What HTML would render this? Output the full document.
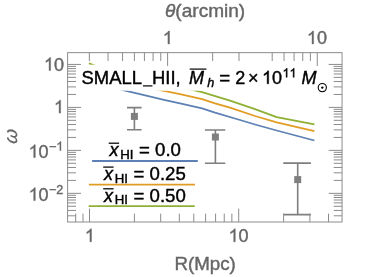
<!DOCTYPE html>
<html><head><meta charset="utf-8"><title>plot</title>
<style>
html,body{margin:0;padding:0;background:#fff;}
svg{display:block;will-change:transform;font-family:"Liberation Sans",sans-serif;}
</style></head><body>
<svg width="374" height="277" viewBox="0 0 374 277">
<rect width="374" height="277" fill="#fff"/>
<polyline points="88.9,80.5 122,89.9 141,94.3 164,99.8 180,103.4 202.1,108.3 215,112.6 240,120.0 255,124.5 276.7,130.5 314.4,140.5" fill="none" stroke="#5E81B5" stroke-width="1.8" stroke-linejoin="round"/>
<polyline points="88.9,72 134.4,85.0 158,89.7 180,94.2 202.1,99.2 215,103.3 230,107.7 255,116.0 276.7,122.3 314.4,131.1" fill="none" stroke="#E19C24" stroke-width="1.8" stroke-linejoin="round"/>
<polyline points="88.9,63.3 96,66.2 134.4,79.0 192.5,89.9 202.0,92.1 230,100.6 255,109.1 276.7,117.1 314.4,124.4" fill="none" stroke="#8FB032" stroke-width="1.8" stroke-linejoin="round"/>
<path d="M134.4 107.6V129.8M127.0 107.6H141.6M127.0 129.8H141.6" stroke="#7f7f7f" stroke-width="1.6" fill="none"/><rect x="130.9" y="112.9" width="7.0" height="7.0" fill="#7f7f7f"/>
<path d="M215.4 130.0V163.2M204.9 130.0H225.3M204.9 163.2H225.3" stroke="#7f7f7f" stroke-width="1.6" fill="none"/><rect x="211.9" y="133.5" width="7.0" height="7.0" fill="#7f7f7f"/>
<path d="M297.7 163.1V214.6M283.2 163.1H310.9M283.2 214.6H310.9" stroke="#7f7f7f" stroke-width="1.6" fill="none"/><rect x="294.2" y="176.1" width="7.0" height="7.0" fill="#7f7f7f"/>
<path d="M92.1 161H197.8" stroke="#5E81B5" stroke-width="1.8"/>
<path d="M88.9 184.7H195" stroke="#E19C24" stroke-width="1.8"/>
<path d="M88.7 206.1H194.7" stroke="#8FB032" stroke-width="1.8"/>
<rect x="80" y="64.7" width="249" height="26.0" fill="#fff"/>
<rect x="67.6" y="52.65" width="274.45000000000005" height="169.35" fill="none" stroke="#8c8c8c" stroke-width="1"/>
<path d="M75.7 222.0V213.6M83.0 222.0V213.6M89.5 222.0V208.6M134.41 222.0V213.6M160.69 222.0V213.6M179.33 222.0V213.6M193.79 222.0V213.6M205.6 222.0V213.6M215.59 222.0V213.6M224.24 222.0V213.6M231.87 222.0V213.6M238.7 222.0V208.6M283.61 222.0V213.6M309.89 222.0V213.6M328.53 222.0V213.6M89.35 52.6V61.0M108.05 52.6V61.0M122.55 52.6V61.0M134.4 52.6V61.0M144.42 52.6V61.0M153.1 52.6V61.0M160.75 52.6V61.0M167.6 52.6V66.0M212.65 52.6V61.0M239.0 52.6V61.0M272.2 52.6V61.0M284.05 52.6V61.0M294.07 52.6V61.0M302.75 52.6V61.0M310.4 52.6V61.0M317.25 52.6V66.0M67.6 215.81H76.0M342.1 215.81H333.7M67.6 210.44H76.0M342.1 210.44H333.7M67.6 206.28H76.0M342.1 206.28H333.7M67.6 202.87H76.0M342.1 202.87H333.7M67.6 200.0H76.0M342.1 200.0H333.7M67.6 197.5H76.0M342.1 197.5H333.7M67.6 195.31H76.0M342.1 195.31H333.7M67.6 193.34H81.0M342.1 193.34H328.7M67.6 180.4H76.0M342.1 180.4H333.7M67.6 172.84H76.0M342.1 172.84H333.7M67.6 167.47H76.0M342.1 167.47H333.7M67.6 163.31H76.0M342.1 163.31H333.7M67.6 159.9H76.0M342.1 159.9H333.7M67.6 157.03H76.0M342.1 157.03H333.7M67.6 154.53H76.0M342.1 154.53H333.7M67.6 152.34H76.0M342.1 152.34H333.7M67.6 150.37H81.0M342.1 150.37H328.7M67.6 137.43H76.0M342.1 137.43H333.7M67.6 129.87H76.0M342.1 129.87H333.7M67.6 124.5H76.0M342.1 124.5H333.7M67.6 120.34H76.0M342.1 120.34H333.7M67.6 116.93H76.0M342.1 116.93H333.7M67.6 114.06H76.0M342.1 114.06H333.7M67.6 111.56H76.0M342.1 111.56H333.7M67.6 109.37H76.0M342.1 109.37H333.7M67.6 107.4H81.0M342.1 107.4H328.7M67.6 94.46H76.0M342.1 94.46H333.7M67.6 86.9H76.0M342.1 86.9H333.7M67.6 81.53H76.0M342.1 81.53H333.7M67.6 77.37H76.0M342.1 77.37H333.7M67.6 73.96H76.0M342.1 73.96H333.7M67.6 71.09H76.0M342.1 71.09H333.7M67.6 68.59H76.0M342.1 68.59H333.7M67.6 66.4H76.0M342.1 66.4H333.7M67.6 64.43H81.0M342.1 64.43H328.7" stroke="#8c8c8c" stroke-width="1" fill="none"/>
<text transform="translate(205.1 17.1) scale(1.047 1)" text-anchor="middle" fill="#666666" stroke="#666666" stroke-width="0.4" font-size="18.2" ><tspan font-style="italic">θ</tspan>(arcmin)</text>
<text transform="translate(205.1 269.9) scale(1.042 1)" text-anchor="middle" fill="#666666" stroke="#666666" stroke-width="0.4" font-size="18" >R(Mpc)</text>
<text transform="translate(17.3 136.9) rotate(-90) skewX(-8)" text-anchor="middle" fill="#666666" stroke="#666666" stroke-width="0.2" font-size="18.6" font-style="italic">ω</text>
<path transform="translate(162.80 43.9) scale(0.00879 -0.00879)" d="M763 0H583V1147Q518 1085 412.5 1023T223 930V1104Q374 1175 487 1276T647 1472H763Z" fill="#666666" stroke="#666666" stroke-width="45.5"/>
<path transform="translate(306.89 43.9) scale(0.00879 -0.00879)" d="M763 0H583V1147Q518 1085 412.5 1023T223 930V1104Q374 1175 487 1276T647 1472H763Z" fill="#666666" stroke="#666666" stroke-width="45.5"/><text x="316.9" y="43.9" text-anchor="start" fill="#666666" stroke="#666666" stroke-width="0.4" font-size="18" >0</text>
<path transform="translate(84.80 241.8) scale(0.00879 -0.00879)" d="M763 0H583V1147Q518 1085 412.5 1023T223 930V1104Q374 1175 487 1276T647 1472H763Z" fill="#666666" stroke="#666666" stroke-width="45.5"/>
<path transform="translate(228.59 241.8) scale(0.00879 -0.00879)" d="M763 0H583V1147Q518 1085 412.5 1023T223 930V1104Q374 1175 487 1276T647 1472H763Z" fill="#666666" stroke="#666666" stroke-width="45.5"/><text x="238.6" y="241.8" text-anchor="start" fill="#666666" stroke="#666666" stroke-width="0.4" font-size="18" >0</text>
<path transform="translate(43.93 70.55) scale(0.00879 -0.00879)" d="M763 0H583V1147Q518 1085 412.5 1023T223 930V1104Q374 1175 487 1276T647 1472H763Z" fill="#666666" stroke="#666666" stroke-width="45.5"/><text x="53.94" y="70.55" text-anchor="start" fill="#666666" stroke="#666666" stroke-width="0.4" font-size="18" >0</text>
<path transform="translate(53.94 113.1) scale(0.00879 -0.00879)" d="M763 0H583V1147Q518 1085 412.5 1023T223 930V1104Q374 1175 487 1276T647 1472H763Z" fill="#666666" stroke="#666666" stroke-width="45.5"/>
<path transform="translate(28.58 157.60000000000002) scale(0.00879 -0.00879)" d="M763 0H583V1147Q518 1085 412.5 1023T223 930V1104Q374 1175 487 1276T647 1472H763Z" fill="#666666" stroke="#666666" stroke-width="45.5"/><text x="38.59" y="157.60000000000002" text-anchor="start" fill="#666666" stroke="#666666" stroke-width="0.4" font-size="18" >0</text>
<text x="48.9" y="150.60000000000002" text-anchor="start" fill="#666666" stroke="#666666" stroke-width="0.4" font-size="12.6" >−</text><path transform="translate(56.26 150.60000000000002) scale(0.00615 -0.00615)" d="M763 0H583V1147Q518 1085 412.5 1023T223 930V1104Q374 1175 487 1276T647 1472H763Z" fill="#666666" stroke="#666666" stroke-width="65.0"/>
<path transform="translate(28.58 200.60000000000002) scale(0.00879 -0.00879)" d="M763 0H583V1147Q518 1085 412.5 1023T223 930V1104Q374 1175 487 1276T647 1472H763Z" fill="#666666" stroke="#666666" stroke-width="45.5"/><text x="38.59" y="200.60000000000002" text-anchor="start" fill="#666666" stroke="#666666" stroke-width="0.4" font-size="18" >0</text>
<text x="48.9" y="193.60000000000002" text-anchor="start" fill="#666666" stroke="#666666" stroke-width="0.4" font-size="12.6" >−2</text>
<text transform="translate(81.5 83.8) scale(1.0257 1)" text-anchor="start" fill="#000" stroke="#000" stroke-width="0.4" font-size="18" >SMALL</text>
<path d="M143.0 85.9H152.4" stroke="#000" stroke-width="1.2"/>
<text transform="translate(152.0 83.8) scale(1.0257 1)" text-anchor="start" fill="#000" stroke="#000" stroke-width="0.4" font-size="18" >HII,</text>
<text x="189.0" y="83.8" text-anchor="start" fill="#000" stroke="#000" stroke-width="0.4" font-size="18" font-style="italic">M</text>
<path d="M189.7 69.1H206.4" stroke="#000" stroke-width="1.2"/>
<text x="207.3" y="87.0" text-anchor="start" fill="#000" stroke="#000" stroke-width="0.4" font-size="12.6" font-style="italic">h</text>
<text transform="translate(219.3 83.8) scale(1.04 1)" text-anchor="start" fill="#000" stroke="#000" stroke-width="0.4" font-size="18" >=</text>
<text x="235.2" y="83.8" text-anchor="start" fill="#000" stroke="#000" stroke-width="0.4" font-size="18" >2</text>
<text x="248.0" y="83.8" text-anchor="start" fill="#000" stroke="#000" stroke-width="0.4" font-size="18" >×</text>
<path transform="translate(262.00 83.8) scale(0.00879 -0.00879)" d="M763 0H583V1147Q518 1085 412.5 1023T223 930V1104Q374 1175 487 1276T647 1472H763Z" fill="#000" stroke="#000" stroke-width="45.5"/><text x="272.01" y="83.8" text-anchor="start" fill="#000" stroke="#000" stroke-width="0.4" font-size="18" >0</text>
<path transform="translate(282.50 77.3) scale(0.00615 -0.00615)" d="M763 0H583V1147Q518 1085 412.5 1023T223 930V1104Q374 1175 487 1276T647 1472H763Z" fill="#000" stroke="#000" stroke-width="65.0"/><path transform="translate(289.51 77.3) scale(0.00615 -0.00615)" d="M763 0H583V1147Q518 1085 412.5 1023T223 930V1104Q374 1175 487 1276T647 1472H763Z" fill="#000" stroke="#000" stroke-width="65.0"/>
<text x="301.5" y="83.8" text-anchor="start" fill="#000" stroke="#000" stroke-width="0.4" font-size="18" font-style="italic">M</text>
<circle cx="322.3" cy="87.6" r="4.1" fill="none" stroke="#000" stroke-width="1.1"/><circle cx="322.3" cy="87.6" r="1.2" fill="#000"/>
<text x="109.39999999999999" y="156.0" text-anchor="start" fill="#000" stroke="#000" stroke-width="0.4" font-size="18" font-style="italic">x</text><path d="M108.7 143.2H119.1" stroke="#000" stroke-width="1.25"/><text transform="translate(120.3 158.8) scale(1.05 1)" text-anchor="start" fill="#000" stroke="#000" stroke-width="0.4" font-size="12.6" >HI</text><text transform="translate(139.0 156.0) scale(1.035 1)" text-anchor="start" fill="#000" stroke="#000" stroke-width="0.4" font-size="18" >= 0.0</text>
<text x="103.89999999999999" y="179.9" text-anchor="start" fill="#000" stroke="#000" stroke-width="0.4" font-size="18" font-style="italic">x</text><path d="M103.2 167.1H113.6" stroke="#000" stroke-width="1.25"/><text transform="translate(114.8 182.70000000000002) scale(1.05 1)" text-anchor="start" fill="#000" stroke="#000" stroke-width="0.4" font-size="12.6" >HI</text><text transform="translate(133.5 179.9) scale(1.035 1)" text-anchor="start" fill="#000" stroke="#000" stroke-width="0.4" font-size="18" >= 0.25</text>
<text x="103.89999999999999" y="201.6" text-anchor="start" fill="#000" stroke="#000" stroke-width="0.4" font-size="18" font-style="italic">x</text><path d="M103.2 188.79999999999998H113.6" stroke="#000" stroke-width="1.25"/><text transform="translate(114.8 204.4) scale(1.05 1)" text-anchor="start" fill="#000" stroke="#000" stroke-width="0.4" font-size="12.6" >HI</text><text transform="translate(133.5 201.6) scale(1.035 1)" text-anchor="start" fill="#000" stroke="#000" stroke-width="0.4" font-size="18" >= 0.50</text>
</svg>
</body></html>
